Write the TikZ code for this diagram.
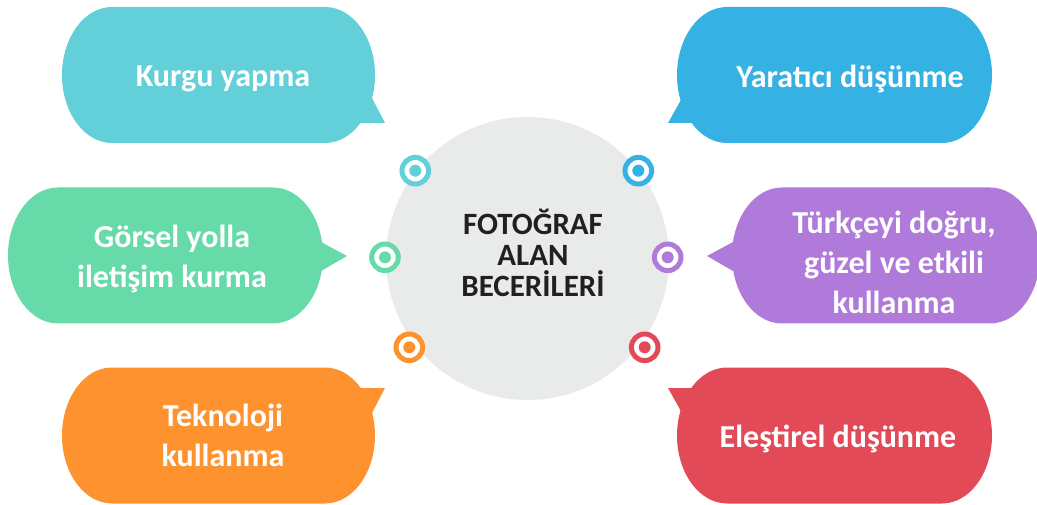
\documentclass[tikz,border=0pt]{standalone}
\usepackage{fontspec}
\setmainfont{Carlito}
\definecolor{kcyan}{HTML}{63CFD8}
\definecolor{kblue}{HTML}{35B2E3}
\definecolor{kgreen}{HTML}{66DBA9}
\definecolor{kpurple}{HTML}{AF7AD9}
\definecolor{korange}{HTML}{FE922E}
\definecolor{kred}{HTML}{E24A58}
\definecolor{kgray}{HTML}{E9EBEB}
\definecolor{kdark}{HTML}{231F20}
\begin{document}
\begin{tikzpicture}[x=1pt, y=-1pt,
    bubbletext/.style={text=white, align=center, font=\bfseries\fontsize{32}{40}\selectfont},
    centertext/.style={text=kdark, align=center, font=\bfseries\fontsize{31}{31}\selectfont}]
  \useasboundingbox (0,0) rectangle (1037,505);
  % The grey circle in the middle
  \fill [kgray] (527.5,258.5) circle (141.5);
  \node [centertext] (merkez) at (533,253) {FOTOĞRAF\\ALAN\\BECERİLERİ};
  % The rings sitting on the edge of the circle
  \foreach \x/\y/\col in {
    415.3/170.7/kcyan,
    638.3/170.7/kblue,
    385/257.3/kgreen,
    667.7/257.3/kpurple,
    409.3/347.3/korange,
    644.7/347.3/kred} {
    \fill [white] (\x,\y) circle (13.5);
    \draw [\col, line width=5] (\x,\y) circle (13.3);
    \fill [\col] (\x,\y) circle (6);
  }
  % The speech bubbles: centre, half width, colour
  \foreach \cx/\cy/\a/\col in {
    218.5/75/156.5/kcyan,
    165.5/255.5/157.5/kgreen,
    218.5/435.5/156.5/korange,
    834.5/75/157.5/kblue,
    886/255.5/154/kpurple,
    834.5/435.5/157.5/kred} {
    \fill [\col] ({\cx-\a+50},{\cy-68}) -- ({\cx+\a-50},{\cy-68})
      arc [start angle=-90, end angle=90, x radius=50, y radius=68]
      -- ({\cx-\a+50},{\cy+68})
      arc [start angle=90, end angle=270, x radius=50, y radius=68] -- cycle;
  }
  % The tails pointing at the rings
  \foreach \ax/\ay/\tx/\ty/\bx/\by/\col in {
    372/98/385/123/350/123/kcyan,
    321/242/347/256/321/271/kgreen,
    350/388/385/388/372/413/korange,
    682/98/668/123/703/123/kblue,
    733/242/707/256/733/271/kpurple,
    703/388/668/388/682/413/kred} {
    \fill [\col] (\ax,\ay) -- (\tx,\ty) -- (\bx,\by) -- cycle;
  }
  % The texts of the bubbles
  \node [bubbletext] (kurgu) at (223,79) {Kurgu yapma};
  \node [bubbletext] (gorsel) at (172,259) {Görsel yolla\\iletişim kurma};
  \node [bubbletext] (teknoloji) at (223,435) {Teknoloji\\kullanma};
  \node [bubbletext] (yaratici) at (850,79) {Yaratıcı düşünme};
  \node [bubbletext] (turkce) at (894,262) {Türkçeyi doğru,\\güzel ve etkili\\kullanma};
  \node [bubbletext] (elestirel) at (838,439) {Eleştirel düşünme};
\end{tikzpicture}
\end{document}
